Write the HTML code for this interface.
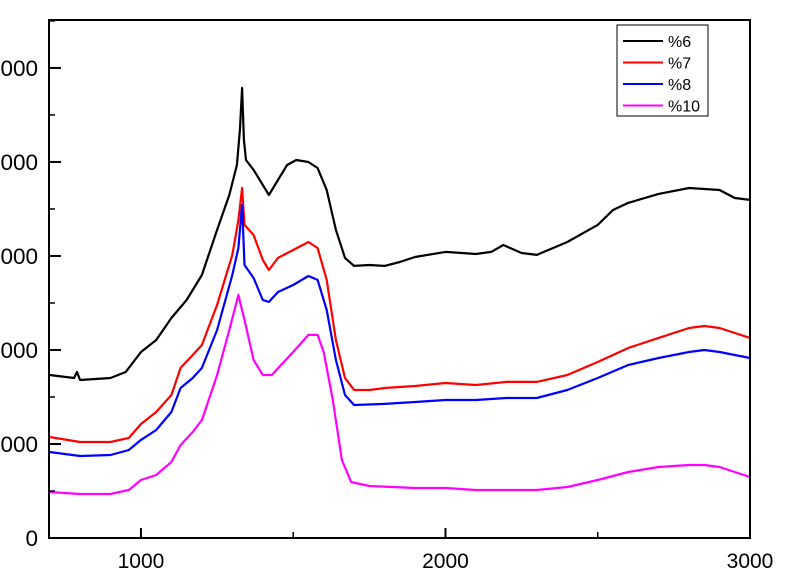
<!DOCTYPE html>
<html><head><meta charset="utf-8"><style>
body{margin:0;background:#fff;}
svg{display:block;font-family:"Liberation Sans",Arial,sans-serif;}
</style></head><body>
<svg id="chart" width="800" height="573" viewBox="0 0 800 573">
<g id="plot"></g>
</svg>
<script>
const xTicks=[1000,2000,3000];
const xMinor=[1500,2500];
const yTicks=[0,1000,2000,3000,4000,5000];
const yTickLabels=["0","1000","2000","3000","4000","5000"];
const seriesNames=["%6","%7","%8","%10"];
const seriesColors=["#000000","#ff0000","#0000ff","#ff00ff"];
const xs6=[700,780,790,800,900,950,1000,1050,1100,1150,1200,1250,1290,1315,1325,1332,1338,1345,1370,1400,1420,1450,1480,1510,1550,1580,1610,1640,1670,1700,1750,1800,1850,1900,2000,2100,2150,2190,2250,2300,2400,2500,2550,2600,2700,2800,2900,2950,3000];
const ys6=[1734,1702,1766,1681,1702,1766,1979,2106,2340,2532,2798,3277,3649,3968,4340,4787,4234,4021,3915,3755,3649,3809,3968,4021,4000,3936,3702,3277,2979,2894,2904,2894,2936,2989,3043,3021,3043,3117,3032,3011,3149,3330,3489,3564,3660,3723,3702,3617,3596];
const xs7=[700,800,900,960,1000,1050,1100,1130,1170,1200,1250,1300,1320,1332,1340,1370,1400,1420,1450,1500,1550,1580,1610,1640,1670,1700,1750,1800,1900,2000,2100,2200,2300,2400,2500,2600,2700,2800,2850,2900,3000];
const ys7=[1074,1021,1021,1064,1213,1340,1521,1809,1947,2053,2479,3011,3383,3723,3330,3223,2957,2851,2979,3064,3149,3085,2745,2106,1702,1574,1574,1596,1617,1649,1628,1660,1660,1734,1872,2021,2128,2234,2255,2234,2128];
const xs8=[700,800,900,960,1000,1050,1100,1130,1170,1200,1250,1300,1320,1332,1340,1370,1400,1420,1450,1500,1550,1580,1610,1640,1670,1700,1800,1900,2000,2100,2200,2300,2400,2500,2600,2700,2800,2850,2900,3000];
const ys8=[915,872,883,936,1043,1149,1340,1596,1702,1809,2213,2798,3085,3543,2904,2766,2532,2511,2617,2691,2787,2745,2426,1894,1521,1415,1426,1447,1468,1468,1489,1489,1574,1702,1840,1915,1979,2000,1979,1915];
const xs10=[700,800,900,960,1000,1050,1100,1130,1170,1200,1250,1290,1320,1340,1370,1400,1430,1460,1500,1550,1580,1600,1630,1660,1690,1750,1900,2000,2100,2200,2300,2400,2500,2600,2700,2800,2850,2900,3000];
const ys10=[489,468,468,511,617,670,809,989,1128,1255,1734,2213,2585,2319,1894,1734,1734,1840,1979,2160,2160,1979,1468,830,596,553,532,532,511,511,511,543,617,702,755,777,777,755,649];
const seriesX=[xs6,xs7,xs8,xs10];
const seriesY=[ys6,ys7,ys8,ys10];

const L=49,R=750,T=20,B=538,XMIN=698,XMAX=3000,YMAX=5510;
const sx=v=>L+(v-XMIN)/(XMAX-XMIN)*(R-L);
const sy=v=>B-v/YMAX*(B-T);
const NS="http://www.w3.org/2000/svg";
const g=document.getElementById('plot');
function mk(t,a){const e=document.createElementNS(NS,t);for(const k in a)e.setAttribute(k,a[k]);g.appendChild(e);return e;}

seriesX.forEach((xa,i)=>{
  const d=xa.map((x,j)=>(j?'L':'M')+sx(x).toFixed(1)+','+sy(seriesY[i][j]).toFixed(1)).join(' ');
  const p=mk('path',{d:d,fill:'none',stroke:seriesColors[i],'stroke-width':2.2,'stroke-linejoin':'round'});
  
  
});

const frame=mk('rect',{x:L,y:T,width:R-L,height:B-T,fill:'none',stroke:'#000','stroke-width':2});



xTicks.forEach(v=>{
  const t=mk('line',{x1:sx(v),x2:sx(v),y1:B,y2:B-10,stroke:'#000','stroke-width':2});
  
  
  const tx=mk('text',{x:sx(v),y:B+30,'text-anchor':'middle','font-size':21,fill:'#000'});
  tx.textContent=v;
  
  
});
xMinor.forEach(v=>{
  const t=mk('line',{x1:sx(v),x2:sx(v),y1:B,y2:B-6,stroke:'#000','stroke-width':1.5});
  
  
});
yTicks.forEach((v,i)=>{
  if(v>0){
    const t=mk('line',{x1:L,x2:L+12,y1:sy(v),y2:sy(v),stroke:'#000','stroke-width':2});
    
    
  }
  const m=mk('line',{x1:L,x2:L+6,y1:sy(v+500),y2:sy(v+500),stroke:'#000','stroke-width':1.5});
  
  
  const tx=mk('text',{x:38,y:sy(v)+8,'text-anchor':'end','font-size':22.5,fill:'#000'});
  tx.textContent=yTickLabels[i];
  
  
});

const lg=mk('rect',{x:617,y:25,width:91,height:91,fill:'#fff',stroke:'#000','stroke-width':1});


seriesNames.forEach((n,i)=>{
  const y=41+i*21.5;
  const l=mk('line',{x1:623,x2:663,y1:y,y2:y,stroke:seriesColors[i],'stroke-width':2});
  
  
  const t=mk('text',{x:668,y:y+6,'font-size':16,fill:'#000'});
  t.textContent=n;
  
  
});
</script>
</body></html>
